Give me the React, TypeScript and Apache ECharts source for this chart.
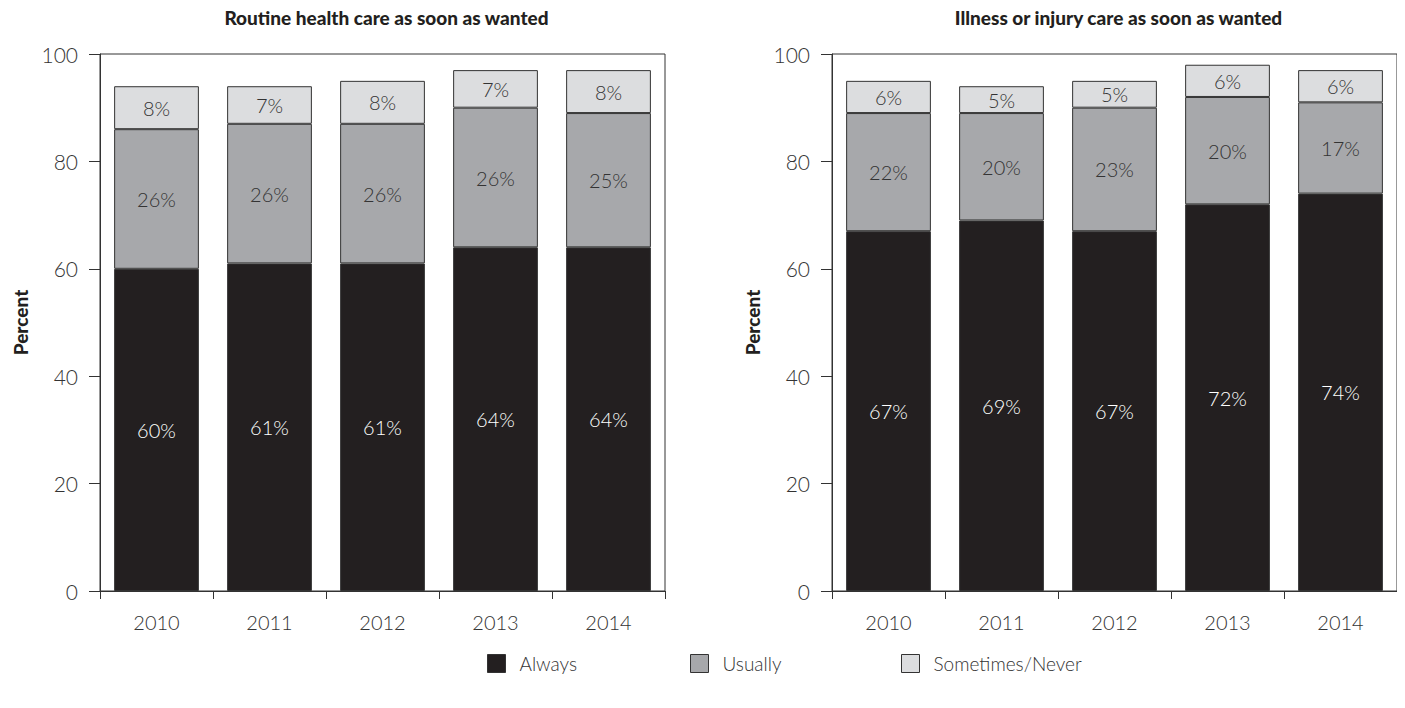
import React, { useEffect, useRef } from "react";
import * as echarts from "echarts";

const years = ["2010", "2011", "2012", "2013", "2014"];
const routineAlways = [60, 61, 61, 64, 64];
const routineUsually = [26, 26, 26, 26, 25];
const routineSometimes = [8, 7, 8, 7, 8];
const illnessAlways = [67, 69, 67, 72, 74];
const illnessUsually = [22, 20, 23, 20, 17];
const illnessSometimes = [6, 5, 5, 6, 6];
const titles = ["Routine health care as soon as wanted", "Illness or injury care as soon as wanted"];
const seriesNames = ["Always", "Usually", "Sometimes/Never"];

const COLORS = ["#231f20", "#a7a8ab", "#dcdddf"];
const FONT = "Lato, 'Open Sans', sans-serif";
const TEXT = "#333333";

export default function App() {
  const ref = useRef<HTMLDivElement>(null);
  useEffect(() => {
    if (!ref.current) return;
    const chart = echarts.init(ref.current, undefined, { renderer: "svg" });
    const grids = [
      { left: 100, top: 54, width: 565, height: 537 },
      { left: 832, top: 54, width: 565, height: 537 },
    ];
    const data = [
      [routineAlways, routineUsually, routineSometimes],
      [illnessAlways, illnessUsually, illnessSometimes],
    ];
    const series: any[] = [];
    data.forEach((group, gi) => {
      group.forEach((vals, si) => {
        series.push({
          type: "bar",
          name: seriesNames[si],
          xAxisIndex: gi,
          yAxisIndex: gi,
          stack: "s" + gi,
          barWidth: "75%",
          data: vals,
          itemStyle: { color: COLORS[si], borderColor: "#333", borderWidth: 1 },
          label: {
            show: true,
            position: "inside",
            formatter: "{c}%",
            color: si === 0 ? "#ffffff" : TEXT,
            fontFamily: FONT,
            fontWeight: 300,
            fontSize: 20,
          },
        });
      });
    });
    const legendLefts = [482, 685, 896];
    chart.setOption({
      animation: false,
      title: titles.map((t, i) => ({
        text: t,
        left: grids[i].left + grids[i].width / 2 - 1,
        textAlign: "center",
        top: 3,
        textStyle: { fontFamily: FONT, fontWeight: 900, fontSize: 19, color: "#231f20" },
      })),
      legend: seriesNames.map((n, i) => ({
        data: [n],
        left: legendLefts[i],
        top: 649,
        icon: "rect",
        itemWidth: 18,
        itemHeight: 18,
        selectedMode: false,
        itemStyle: { borderColor: "#333", borderWidth: 1 },
        textStyle: { fontFamily: FONT, fontWeight: 300, fontSize: 19, color: TEXT, padding: [0, 0, 0, 9] },
      })),
      grid: grids.map((g) => ({ ...g, show: true, borderColor: "#333", borderWidth: 1, containLabel: false })),
      xAxis: grids.map((_, i) => ({
        type: "category",
        gridIndex: i,
        data: years,
        axisLine: { lineStyle: { color: "#333", width: 1 } },
        axisTick: { show: true, length: 8, lineStyle: { color: "#333" } },
        axisLabel: { margin: 21, fontFamily: FONT, fontWeight: 300, fontSize: 20, color: TEXT },
      })),
      yAxis: grids.map((_, i) => ({
        type: "value",
        gridIndex: i,
        min: 0,
        max: 100,
        interval: 20,
        name: "Percent",
        nameLocation: "middle",
        nameRotate: 90,
        nameGap: 70,
        nameTextStyle: { fontFamily: FONT, fontWeight: 900, fontSize: 19, color: "#231f20" },
        axisLine: { show: true, lineStyle: { color: "#333", width: 1 } },
        axisTick: { show: true, length: 11, lineStyle: { color: "#333" } },
        splitLine: { show: false },
        axisLabel: { margin: 22, fontFamily: FONT, fontWeight: 300, fontSize: 21, color: TEXT },
      })),
      series,
    });
    return () => chart.dispose();
  }, []);
  return <div ref={ref} style={{ width: 1405, height: 708, margin: -8 }} />;
}
